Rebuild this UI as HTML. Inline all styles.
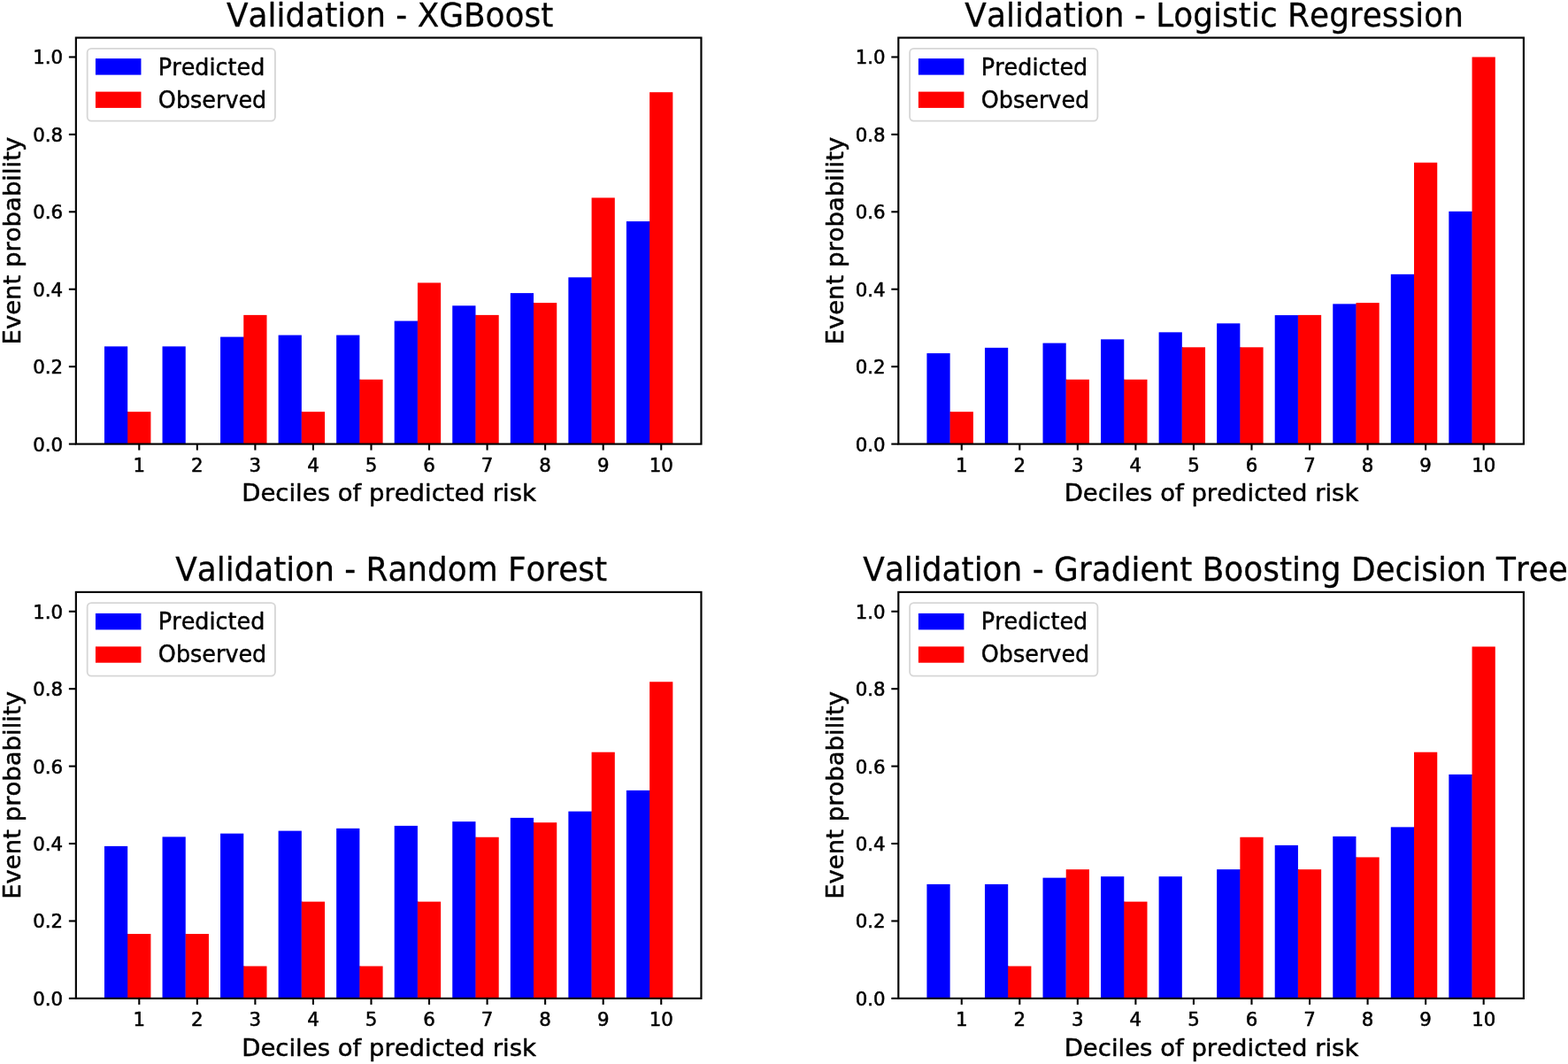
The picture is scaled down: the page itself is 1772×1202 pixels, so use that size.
<!DOCTYPE html>
<html lang="en"><head><meta charset="utf-8"><title>Validation calibration plots</title>
<style>html,body{margin:0;padding:0;background:#fff;}body{width:1772px;height:1202px;overflow:hidden;}svg{display:block;}text{font-family:"DejaVu Sans", "Liberation Sans", sans-serif;font-kerning:none;fill:#000;stroke:#000;stroke-linejoin:round;}</style>
</head><body>
<svg width="1772" height="1202" viewBox="0 0 1772 1202">
<rect x="0" y="0" width="1772" height="1202" fill="#ffffff"/>
<g>
<rect x="117.97" y="391.35" width="26.22" height="110.25" fill="#0000ff"/>
<rect x="143.99" y="465.17" width="1.2" height="36.43" fill="#0000ff"/>
<rect x="144.19" y="465.17" width="26.22" height="36.43" fill="#ff0000"/>
<rect x="183.52" y="391.35" width="26.22" height="110.25" fill="#0000ff"/>
<rect x="249.06" y="380.6" width="26.22" height="121" fill="#0000ff"/>
<rect x="275.08" y="380.6" width="1.2" height="121" fill="#0000ff"/>
<rect x="275.28" y="355.89" width="26.22" height="145.71" fill="#ff0000"/>
<rect x="314.61" y="378.59" width="26.22" height="123.01" fill="#0000ff"/>
<rect x="340.63" y="465.17" width="1.2" height="36.43" fill="#0000ff"/>
<rect x="340.83" y="465.17" width="26.22" height="36.43" fill="#ff0000"/>
<rect x="380.16" y="378.59" width="26.22" height="123.01" fill="#0000ff"/>
<rect x="406.18" y="428.74" width="1.2" height="72.86" fill="#0000ff"/>
<rect x="406.38" y="428.74" width="26.22" height="72.86" fill="#ff0000"/>
<rect x="445.7" y="362.59" width="26.22" height="139.01" fill="#0000ff"/>
<rect x="471.72" y="362.59" width="1.2" height="139.01" fill="#0000ff"/>
<rect x="471.92" y="319.46" width="26.22" height="182.14" fill="#ff0000"/>
<rect x="511.25" y="345.32" width="26.22" height="156.28" fill="#0000ff"/>
<rect x="537.27" y="355.89" width="1.2" height="145.71" fill="#0000ff"/>
<rect x="537.47" y="355.89" width="26.22" height="145.71" fill="#ff0000"/>
<rect x="576.8" y="331.11" width="26.22" height="170.49" fill="#0000ff"/>
<rect x="602.82" y="342.13" width="1.2" height="159.47" fill="#0000ff"/>
<rect x="603.02" y="342.13" width="26.22" height="159.47" fill="#ff0000"/>
<rect x="642.35" y="313.32" width="26.22" height="188.28" fill="#0000ff"/>
<rect x="668.37" y="313.32" width="1.2" height="188.28" fill="#0000ff"/>
<rect x="668.57" y="223.42" width="26.22" height="278.18" fill="#ff0000"/>
<rect x="707.89" y="250.07" width="26.22" height="251.53" fill="#0000ff"/>
<rect x="733.91" y="250.07" width="1.2" height="251.53" fill="#0000ff"/>
<rect x="734.11" y="104.2" width="26.22" height="397.4" fill="#ff0000"/>
<line x1="157.3" y1="501.6" x2="157.3" y2="508.6" stroke="#000" stroke-width="2.1"/>
<text transform="translate(157.3 532.6) scale(1 0.96)" font-size="21.3" stroke-width="0.55" text-anchor="middle">1</text>
<line x1="222.84" y1="501.6" x2="222.84" y2="508.6" stroke="#000" stroke-width="2.1"/>
<text transform="translate(222.84 532.6) scale(1 0.96)" font-size="21.3" stroke-width="0.55" text-anchor="middle">2</text>
<line x1="288.39" y1="501.6" x2="288.39" y2="508.6" stroke="#000" stroke-width="2.1"/>
<text transform="translate(288.39 532.6) scale(1 0.96)" font-size="21.3" stroke-width="0.55" text-anchor="middle">3</text>
<line x1="353.94" y1="501.6" x2="353.94" y2="508.6" stroke="#000" stroke-width="2.1"/>
<text transform="translate(353.94 532.6) scale(1 0.96)" font-size="21.3" stroke-width="0.55" text-anchor="middle">4</text>
<line x1="419.49" y1="501.6" x2="419.49" y2="508.6" stroke="#000" stroke-width="2.1"/>
<text transform="translate(419.49 532.6) scale(1 0.96)" font-size="21.3" stroke-width="0.55" text-anchor="middle">5</text>
<line x1="485.03" y1="501.6" x2="485.03" y2="508.6" stroke="#000" stroke-width="2.1"/>
<text transform="translate(485.03 532.6) scale(1 0.96)" font-size="21.3" stroke-width="0.55" text-anchor="middle">6</text>
<line x1="550.58" y1="501.6" x2="550.58" y2="508.6" stroke="#000" stroke-width="2.1"/>
<text transform="translate(550.58 532.6) scale(1 0.96)" font-size="21.3" stroke-width="0.55" text-anchor="middle">7</text>
<line x1="616.13" y1="501.6" x2="616.13" y2="508.6" stroke="#000" stroke-width="2.1"/>
<text transform="translate(616.13 532.6) scale(1 0.96)" font-size="21.3" stroke-width="0.55" text-anchor="middle">8</text>
<line x1="681.68" y1="501.6" x2="681.68" y2="508.6" stroke="#000" stroke-width="2.1"/>
<text transform="translate(681.68 532.6) scale(1 0.96)" font-size="21.3" stroke-width="0.55" text-anchor="middle">9</text>
<line x1="747.22" y1="501.6" x2="747.22" y2="508.6" stroke="#000" stroke-width="2.1"/>
<text transform="translate(747.22 532.6) scale(1 0.96)" font-size="21.3" stroke-width="0.55" text-anchor="middle">10</text>
<line x1="77.85" y1="501.6" x2="85.85" y2="501.6" stroke="#000" stroke-width="2.1"/>
<text transform="translate(71.05 509.6) scale(1 0.96)" font-size="21.3" stroke-width="0.55" text-anchor="end">0.0</text>
<line x1="77.85" y1="414.17" x2="85.85" y2="414.17" stroke="#000" stroke-width="2.1"/>
<text transform="translate(71.05 422.17) scale(1 0.96)" font-size="21.3" stroke-width="0.55" text-anchor="end">0.2</text>
<line x1="77.85" y1="326.74" x2="85.85" y2="326.74" stroke="#000" stroke-width="2.1"/>
<text transform="translate(71.05 334.74) scale(1 0.96)" font-size="21.3" stroke-width="0.55" text-anchor="end">0.4</text>
<line x1="77.85" y1="239.31" x2="85.85" y2="239.31" stroke="#000" stroke-width="2.1"/>
<text transform="translate(71.05 247.31) scale(1 0.96)" font-size="21.3" stroke-width="0.55" text-anchor="end">0.6</text>
<line x1="77.85" y1="151.89" x2="85.85" y2="151.89" stroke="#000" stroke-width="2.1"/>
<text transform="translate(71.05 159.89) scale(1 0.96)" font-size="21.3" stroke-width="0.55" text-anchor="end">0.8</text>
<line x1="77.85" y1="64.46" x2="85.85" y2="64.46" stroke="#000" stroke-width="2.1"/>
<text transform="translate(71.05 72.46) scale(1 0.96)" font-size="21.3" stroke-width="0.55" text-anchor="end">1.0</text>
<rect x="85.85" y="42.6" width="706.6" height="459" fill="none" stroke="#000" stroke-width="2.15"/>
<text transform="translate(256.09 30.1) scale(1 1.04)" font-size="35.87" stroke-width="0.3" textLength="369.11">Validation - XGBoost</text>
<text transform="translate(439.55 566.3) scale(1 0.98)" font-size="27.5" stroke-width="0.5" text-anchor="middle">Deciles of predicted risk</text>
<text transform="translate(23.05 272.1) rotate(-90) scale(1 0.98)" font-size="27.5" stroke-width="0.5" text-anchor="middle">Event probability</text>
<rect x="98.65" y="54.8" width="212.3" height="81.9" rx="4.6" ry="4.6" fill="#ffffff" fill-opacity="0.8" stroke="#cccccc" stroke-opacity="0.8" stroke-width="1.8"/>
<rect x="107.95" y="66.1" width="51.5" height="18.5" fill="#0000ff"/>
<rect x="107.95" y="103.6" width="51.5" height="18.3" fill="#ff0000"/>
<text transform="translate(178.85 84.5) scale(1 1.03)" font-size="25.45" stroke-width="0.45">Predicted</text>
<text transform="translate(178.85 121.7) scale(1 1.03)" font-size="25.45" stroke-width="0.45">Observed</text>
</g>
<g>
<rect x="1047.42" y="399.09" width="26.22" height="102.51" fill="#0000ff"/>
<rect x="1073.44" y="465.17" width="1.2" height="36.43" fill="#0000ff"/>
<rect x="1073.64" y="465.17" width="26.22" height="36.43" fill="#ff0000"/>
<rect x="1112.97" y="392.84" width="26.22" height="108.76" fill="#0000ff"/>
<rect x="1178.51" y="387.59" width="26.22" height="114.01" fill="#0000ff"/>
<rect x="1204.53" y="428.74" width="1.2" height="72.86" fill="#0000ff"/>
<rect x="1204.73" y="428.74" width="26.22" height="72.86" fill="#ff0000"/>
<rect x="1244.06" y="383.35" width="26.22" height="118.25" fill="#0000ff"/>
<rect x="1270.08" y="428.74" width="1.2" height="72.86" fill="#0000ff"/>
<rect x="1270.28" y="428.74" width="26.22" height="72.86" fill="#ff0000"/>
<rect x="1309.61" y="375.35" width="26.22" height="126.25" fill="#0000ff"/>
<rect x="1335.63" y="392.31" width="1.2" height="109.29" fill="#0000ff"/>
<rect x="1335.83" y="392.31" width="26.22" height="109.29" fill="#ff0000"/>
<rect x="1375.15" y="365.34" width="26.22" height="136.26" fill="#0000ff"/>
<rect x="1401.17" y="392.31" width="1.2" height="109.29" fill="#0000ff"/>
<rect x="1401.37" y="392.31" width="26.22" height="109.29" fill="#ff0000"/>
<rect x="1440.7" y="356.08" width="26.22" height="145.52" fill="#0000ff"/>
<rect x="1466.72" y="356.08" width="1.2" height="145.52" fill="#0000ff"/>
<rect x="1466.92" y="355.89" width="26.22" height="145.71" fill="#ff0000"/>
<rect x="1506.25" y="343.35" width="26.22" height="158.25" fill="#0000ff"/>
<rect x="1532.27" y="343.35" width="1.2" height="158.25" fill="#0000ff"/>
<rect x="1532.47" y="342.13" width="26.22" height="159.47" fill="#ff0000"/>
<rect x="1571.8" y="309.83" width="26.22" height="191.77" fill="#0000ff"/>
<rect x="1597.82" y="309.83" width="1.2" height="191.77" fill="#0000ff"/>
<rect x="1598.02" y="183.68" width="26.22" height="317.92" fill="#ff0000"/>
<rect x="1637.34" y="238.83" width="26.22" height="262.77" fill="#0000ff"/>
<rect x="1663.36" y="238.83" width="1.2" height="262.77" fill="#0000ff"/>
<rect x="1663.56" y="64.46" width="26.22" height="437.14" fill="#ff0000"/>
<line x1="1086.75" y1="501.6" x2="1086.75" y2="508.6" stroke="#000" stroke-width="2.1"/>
<text transform="translate(1086.75 532.6) scale(1 0.96)" font-size="21.3" stroke-width="0.55" text-anchor="middle">1</text>
<line x1="1152.29" y1="501.6" x2="1152.29" y2="508.6" stroke="#000" stroke-width="2.1"/>
<text transform="translate(1152.29 532.6) scale(1 0.96)" font-size="21.3" stroke-width="0.55" text-anchor="middle">2</text>
<line x1="1217.84" y1="501.6" x2="1217.84" y2="508.6" stroke="#000" stroke-width="2.1"/>
<text transform="translate(1217.84 532.6) scale(1 0.96)" font-size="21.3" stroke-width="0.55" text-anchor="middle">3</text>
<line x1="1283.39" y1="501.6" x2="1283.39" y2="508.6" stroke="#000" stroke-width="2.1"/>
<text transform="translate(1283.39 532.6) scale(1 0.96)" font-size="21.3" stroke-width="0.55" text-anchor="middle">4</text>
<line x1="1348.94" y1="501.6" x2="1348.94" y2="508.6" stroke="#000" stroke-width="2.1"/>
<text transform="translate(1348.94 532.6) scale(1 0.96)" font-size="21.3" stroke-width="0.55" text-anchor="middle">5</text>
<line x1="1414.48" y1="501.6" x2="1414.48" y2="508.6" stroke="#000" stroke-width="2.1"/>
<text transform="translate(1414.48 532.6) scale(1 0.96)" font-size="21.3" stroke-width="0.55" text-anchor="middle">6</text>
<line x1="1480.03" y1="501.6" x2="1480.03" y2="508.6" stroke="#000" stroke-width="2.1"/>
<text transform="translate(1480.03 532.6) scale(1 0.96)" font-size="21.3" stroke-width="0.55" text-anchor="middle">7</text>
<line x1="1545.58" y1="501.6" x2="1545.58" y2="508.6" stroke="#000" stroke-width="2.1"/>
<text transform="translate(1545.58 532.6) scale(1 0.96)" font-size="21.3" stroke-width="0.55" text-anchor="middle">8</text>
<line x1="1611.13" y1="501.6" x2="1611.13" y2="508.6" stroke="#000" stroke-width="2.1"/>
<text transform="translate(1611.13 532.6) scale(1 0.96)" font-size="21.3" stroke-width="0.55" text-anchor="middle">9</text>
<line x1="1676.67" y1="501.6" x2="1676.67" y2="508.6" stroke="#000" stroke-width="2.1"/>
<text transform="translate(1676.67 532.6) scale(1 0.96)" font-size="21.3" stroke-width="0.55" text-anchor="middle">10</text>
<line x1="1007.3" y1="501.6" x2="1015.3" y2="501.6" stroke="#000" stroke-width="2.1"/>
<text transform="translate(1000.5 509.6) scale(1 0.96)" font-size="21.3" stroke-width="0.55" text-anchor="end">0.0</text>
<line x1="1007.3" y1="414.17" x2="1015.3" y2="414.17" stroke="#000" stroke-width="2.1"/>
<text transform="translate(1000.5 422.17) scale(1 0.96)" font-size="21.3" stroke-width="0.55" text-anchor="end">0.2</text>
<line x1="1007.3" y1="326.74" x2="1015.3" y2="326.74" stroke="#000" stroke-width="2.1"/>
<text transform="translate(1000.5 334.74) scale(1 0.96)" font-size="21.3" stroke-width="0.55" text-anchor="end">0.4</text>
<line x1="1007.3" y1="239.31" x2="1015.3" y2="239.31" stroke="#000" stroke-width="2.1"/>
<text transform="translate(1000.5 247.31) scale(1 0.96)" font-size="21.3" stroke-width="0.55" text-anchor="end">0.6</text>
<line x1="1007.3" y1="151.89" x2="1015.3" y2="151.89" stroke="#000" stroke-width="2.1"/>
<text transform="translate(1000.5 159.89) scale(1 0.96)" font-size="21.3" stroke-width="0.55" text-anchor="end">0.8</text>
<line x1="1007.3" y1="64.46" x2="1015.3" y2="64.46" stroke="#000" stroke-width="2.1"/>
<text transform="translate(1000.5 72.46) scale(1 0.96)" font-size="21.3" stroke-width="0.55" text-anchor="end">1.0</text>
<rect x="1015.3" y="42.6" width="706.6" height="459" fill="none" stroke="#000" stroke-width="2.15"/>
<text transform="translate(1090.34 30.1) scale(1 1.04)" font-size="35.87" stroke-width="0.3" textLength="563.6">Validation - Logistic Regression</text>
<text transform="translate(1369 566.3) scale(1 0.98)" font-size="27.5" stroke-width="0.5" text-anchor="middle">Deciles of predicted risk</text>
<text transform="translate(952.5 272.1) rotate(-90) scale(1 0.98)" font-size="27.5" stroke-width="0.5" text-anchor="middle">Event probability</text>
<rect x="1028.1" y="54.8" width="212.3" height="81.9" rx="4.6" ry="4.6" fill="#ffffff" fill-opacity="0.8" stroke="#cccccc" stroke-opacity="0.8" stroke-width="1.8"/>
<rect x="1037.9" y="66.1" width="51.5" height="18.5" fill="#0000ff"/>
<rect x="1037.9" y="103.6" width="51.5" height="18.3" fill="#ff0000"/>
<text transform="translate(1108.8 84.5) scale(1 1.03)" font-size="25.45" stroke-width="0.45">Predicted</text>
<text transform="translate(1108.8 121.7) scale(1 1.03)" font-size="25.45" stroke-width="0.45">Observed</text>
</g>
<g>
<rect x="117.97" y="955.88" width="26.22" height="172.02" fill="#0000ff"/>
<rect x="143.99" y="1055.04" width="1.2" height="72.86" fill="#0000ff"/>
<rect x="144.19" y="1055.04" width="26.22" height="72.86" fill="#ff0000"/>
<rect x="183.52" y="945.39" width="26.22" height="182.51" fill="#0000ff"/>
<rect x="209.53" y="1055.04" width="1.2" height="72.86" fill="#0000ff"/>
<rect x="209.73" y="1055.04" width="26.22" height="72.86" fill="#ff0000"/>
<rect x="249.06" y="941.63" width="26.22" height="186.27" fill="#0000ff"/>
<rect x="275.08" y="1091.47" width="1.2" height="36.43" fill="#0000ff"/>
<rect x="275.28" y="1091.47" width="26.22" height="36.43" fill="#ff0000"/>
<rect x="314.61" y="938.62" width="26.22" height="189.28" fill="#0000ff"/>
<rect x="340.63" y="1018.61" width="1.2" height="109.29" fill="#0000ff"/>
<rect x="340.83" y="1018.61" width="26.22" height="109.29" fill="#ff0000"/>
<rect x="380.16" y="935.86" width="26.22" height="192.04" fill="#0000ff"/>
<rect x="406.18" y="1091.47" width="1.2" height="36.43" fill="#0000ff"/>
<rect x="406.38" y="1091.47" width="26.22" height="36.43" fill="#ff0000"/>
<rect x="445.7" y="932.89" width="26.22" height="195.01" fill="#0000ff"/>
<rect x="471.72" y="1018.61" width="1.2" height="109.29" fill="#0000ff"/>
<rect x="471.92" y="1018.61" width="26.22" height="109.29" fill="#ff0000"/>
<rect x="511.25" y="928.13" width="26.22" height="199.77" fill="#0000ff"/>
<rect x="537.27" y="945.76" width="1.2" height="182.14" fill="#0000ff"/>
<rect x="537.47" y="945.76" width="26.22" height="182.14" fill="#ff0000"/>
<rect x="576.8" y="923.89" width="26.22" height="204.01" fill="#0000ff"/>
<rect x="602.82" y="929.2" width="1.2" height="198.7" fill="#0000ff"/>
<rect x="603.02" y="929.2" width="26.22" height="198.7" fill="#ff0000"/>
<rect x="642.35" y="916.63" width="26.22" height="211.27" fill="#0000ff"/>
<rect x="668.37" y="916.63" width="1.2" height="211.27" fill="#0000ff"/>
<rect x="668.57" y="849.72" width="26.22" height="278.18" fill="#ff0000"/>
<rect x="707.89" y="892.89" width="26.22" height="235.01" fill="#0000ff"/>
<rect x="733.91" y="892.89" width="1.2" height="235.01" fill="#0000ff"/>
<rect x="734.11" y="770.24" width="26.22" height="357.66" fill="#ff0000"/>
<line x1="157.3" y1="1127.9" x2="157.3" y2="1134.9" stroke="#000" stroke-width="2.1"/>
<text transform="translate(157.3 1158.9) scale(1 0.96)" font-size="21.3" stroke-width="0.55" text-anchor="middle">1</text>
<line x1="222.84" y1="1127.9" x2="222.84" y2="1134.9" stroke="#000" stroke-width="2.1"/>
<text transform="translate(222.84 1158.9) scale(1 0.96)" font-size="21.3" stroke-width="0.55" text-anchor="middle">2</text>
<line x1="288.39" y1="1127.9" x2="288.39" y2="1134.9" stroke="#000" stroke-width="2.1"/>
<text transform="translate(288.39 1158.9) scale(1 0.96)" font-size="21.3" stroke-width="0.55" text-anchor="middle">3</text>
<line x1="353.94" y1="1127.9" x2="353.94" y2="1134.9" stroke="#000" stroke-width="2.1"/>
<text transform="translate(353.94 1158.9) scale(1 0.96)" font-size="21.3" stroke-width="0.55" text-anchor="middle">4</text>
<line x1="419.49" y1="1127.9" x2="419.49" y2="1134.9" stroke="#000" stroke-width="2.1"/>
<text transform="translate(419.49 1158.9) scale(1 0.96)" font-size="21.3" stroke-width="0.55" text-anchor="middle">5</text>
<line x1="485.03" y1="1127.9" x2="485.03" y2="1134.9" stroke="#000" stroke-width="2.1"/>
<text transform="translate(485.03 1158.9) scale(1 0.96)" font-size="21.3" stroke-width="0.55" text-anchor="middle">6</text>
<line x1="550.58" y1="1127.9" x2="550.58" y2="1134.9" stroke="#000" stroke-width="2.1"/>
<text transform="translate(550.58 1158.9) scale(1 0.96)" font-size="21.3" stroke-width="0.55" text-anchor="middle">7</text>
<line x1="616.13" y1="1127.9" x2="616.13" y2="1134.9" stroke="#000" stroke-width="2.1"/>
<text transform="translate(616.13 1158.9) scale(1 0.96)" font-size="21.3" stroke-width="0.55" text-anchor="middle">8</text>
<line x1="681.68" y1="1127.9" x2="681.68" y2="1134.9" stroke="#000" stroke-width="2.1"/>
<text transform="translate(681.68 1158.9) scale(1 0.96)" font-size="21.3" stroke-width="0.55" text-anchor="middle">9</text>
<line x1="747.22" y1="1127.9" x2="747.22" y2="1134.9" stroke="#000" stroke-width="2.1"/>
<text transform="translate(747.22 1158.9) scale(1 0.96)" font-size="21.3" stroke-width="0.55" text-anchor="middle">10</text>
<line x1="77.85" y1="1127.9" x2="85.85" y2="1127.9" stroke="#000" stroke-width="2.1"/>
<text transform="translate(71.05 1135.9) scale(1 0.96)" font-size="21.3" stroke-width="0.55" text-anchor="end">0.0</text>
<line x1="77.85" y1="1040.47" x2="85.85" y2="1040.47" stroke="#000" stroke-width="2.1"/>
<text transform="translate(71.05 1048.47) scale(1 0.96)" font-size="21.3" stroke-width="0.55" text-anchor="end">0.2</text>
<line x1="77.85" y1="953.04" x2="85.85" y2="953.04" stroke="#000" stroke-width="2.1"/>
<text transform="translate(71.05 961.04) scale(1 0.96)" font-size="21.3" stroke-width="0.55" text-anchor="end">0.4</text>
<line x1="77.85" y1="865.61" x2="85.85" y2="865.61" stroke="#000" stroke-width="2.1"/>
<text transform="translate(71.05 873.61) scale(1 0.96)" font-size="21.3" stroke-width="0.55" text-anchor="end">0.6</text>
<line x1="77.85" y1="778.19" x2="85.85" y2="778.19" stroke="#000" stroke-width="2.1"/>
<text transform="translate(71.05 786.19) scale(1 0.96)" font-size="21.3" stroke-width="0.55" text-anchor="end">0.8</text>
<line x1="77.85" y1="690.76" x2="85.85" y2="690.76" stroke="#000" stroke-width="2.1"/>
<text transform="translate(71.05 698.76) scale(1 0.96)" font-size="21.3" stroke-width="0.55" text-anchor="end">1.0</text>
<rect x="85.85" y="668.9" width="706.6" height="459" fill="none" stroke="#000" stroke-width="2.15"/>
<text transform="translate(198.24 656.4) scale(1 1.04)" font-size="35.87" stroke-width="0.3" textLength="487.74">Validation - Random Forest</text>
<text transform="translate(439.55 1192.6) scale(1 0.98)" font-size="27.5" stroke-width="0.5" text-anchor="middle">Deciles of predicted risk</text>
<text transform="translate(23.05 898.4) rotate(-90) scale(1 0.98)" font-size="27.5" stroke-width="0.5" text-anchor="middle">Event probability</text>
<rect x="98.65" y="681.1" width="212.3" height="82.6" rx="4.6" ry="4.6" fill="#ffffff" fill-opacity="0.8" stroke="#cccccc" stroke-opacity="0.8" stroke-width="1.8"/>
<rect x="107.95" y="692.9" width="51.5" height="18.5" fill="#0000ff"/>
<rect x="107.95" y="730.4" width="51.5" height="18.3" fill="#ff0000"/>
<text transform="translate(178.85 711.1) scale(1 1.03)" font-size="25.45" stroke-width="0.45">Predicted</text>
<text transform="translate(178.85 748.3) scale(1 1.03)" font-size="25.45" stroke-width="0.45">Observed</text>
</g>
<g>
<rect x="1047.42" y="998.9" width="26.22" height="129" fill="#0000ff"/>
<rect x="1112.97" y="998.9" width="26.22" height="129" fill="#0000ff"/>
<rect x="1138.98" y="1091.47" width="1.2" height="36.43" fill="#0000ff"/>
<rect x="1139.18" y="1091.47" width="26.22" height="36.43" fill="#ff0000"/>
<rect x="1178.51" y="991.64" width="26.22" height="136.26" fill="#0000ff"/>
<rect x="1204.53" y="991.64" width="1.2" height="136.26" fill="#0000ff"/>
<rect x="1204.73" y="982.19" width="26.22" height="145.71" fill="#ff0000"/>
<rect x="1244.06" y="990.16" width="26.22" height="137.74" fill="#0000ff"/>
<rect x="1270.08" y="1018.61" width="1.2" height="109.29" fill="#0000ff"/>
<rect x="1270.28" y="1018.61" width="26.22" height="109.29" fill="#ff0000"/>
<rect x="1309.61" y="990.16" width="26.22" height="137.74" fill="#0000ff"/>
<rect x="1375.15" y="982.16" width="26.22" height="145.74" fill="#0000ff"/>
<rect x="1401.17" y="982.16" width="1.2" height="145.74" fill="#0000ff"/>
<rect x="1401.37" y="945.76" width="26.22" height="182.14" fill="#ff0000"/>
<rect x="1440.7" y="954.88" width="26.22" height="173.02" fill="#0000ff"/>
<rect x="1466.72" y="982.19" width="1.2" height="145.71" fill="#0000ff"/>
<rect x="1466.92" y="982.19" width="26.22" height="145.71" fill="#ff0000"/>
<rect x="1506.25" y="944.87" width="26.22" height="183.03" fill="#0000ff"/>
<rect x="1532.27" y="968.43" width="1.2" height="159.47" fill="#0000ff"/>
<rect x="1532.47" y="968.43" width="26.22" height="159.47" fill="#ff0000"/>
<rect x="1571.8" y="934.38" width="26.22" height="193.52" fill="#0000ff"/>
<rect x="1597.82" y="934.38" width="1.2" height="193.52" fill="#0000ff"/>
<rect x="1598.02" y="849.72" width="26.22" height="278.18" fill="#ff0000"/>
<rect x="1637.34" y="874.88" width="26.22" height="253.02" fill="#0000ff"/>
<rect x="1663.36" y="874.88" width="1.2" height="253.02" fill="#0000ff"/>
<rect x="1663.56" y="730.5" width="26.22" height="397.4" fill="#ff0000"/>
<line x1="1086.75" y1="1127.9" x2="1086.75" y2="1134.9" stroke="#000" stroke-width="2.1"/>
<text transform="translate(1086.75 1158.9) scale(1 0.96)" font-size="21.3" stroke-width="0.55" text-anchor="middle">1</text>
<line x1="1152.29" y1="1127.9" x2="1152.29" y2="1134.9" stroke="#000" stroke-width="2.1"/>
<text transform="translate(1152.29 1158.9) scale(1 0.96)" font-size="21.3" stroke-width="0.55" text-anchor="middle">2</text>
<line x1="1217.84" y1="1127.9" x2="1217.84" y2="1134.9" stroke="#000" stroke-width="2.1"/>
<text transform="translate(1217.84 1158.9) scale(1 0.96)" font-size="21.3" stroke-width="0.55" text-anchor="middle">3</text>
<line x1="1283.39" y1="1127.9" x2="1283.39" y2="1134.9" stroke="#000" stroke-width="2.1"/>
<text transform="translate(1283.39 1158.9) scale(1 0.96)" font-size="21.3" stroke-width="0.55" text-anchor="middle">4</text>
<line x1="1348.94" y1="1127.9" x2="1348.94" y2="1134.9" stroke="#000" stroke-width="2.1"/>
<text transform="translate(1348.94 1158.9) scale(1 0.96)" font-size="21.3" stroke-width="0.55" text-anchor="middle">5</text>
<line x1="1414.48" y1="1127.9" x2="1414.48" y2="1134.9" stroke="#000" stroke-width="2.1"/>
<text transform="translate(1414.48 1158.9) scale(1 0.96)" font-size="21.3" stroke-width="0.55" text-anchor="middle">6</text>
<line x1="1480.03" y1="1127.9" x2="1480.03" y2="1134.9" stroke="#000" stroke-width="2.1"/>
<text transform="translate(1480.03 1158.9) scale(1 0.96)" font-size="21.3" stroke-width="0.55" text-anchor="middle">7</text>
<line x1="1545.58" y1="1127.9" x2="1545.58" y2="1134.9" stroke="#000" stroke-width="2.1"/>
<text transform="translate(1545.58 1158.9) scale(1 0.96)" font-size="21.3" stroke-width="0.55" text-anchor="middle">8</text>
<line x1="1611.13" y1="1127.9" x2="1611.13" y2="1134.9" stroke="#000" stroke-width="2.1"/>
<text transform="translate(1611.13 1158.9) scale(1 0.96)" font-size="21.3" stroke-width="0.55" text-anchor="middle">9</text>
<line x1="1676.67" y1="1127.9" x2="1676.67" y2="1134.9" stroke="#000" stroke-width="2.1"/>
<text transform="translate(1676.67 1158.9) scale(1 0.96)" font-size="21.3" stroke-width="0.55" text-anchor="middle">10</text>
<line x1="1007.3" y1="1127.9" x2="1015.3" y2="1127.9" stroke="#000" stroke-width="2.1"/>
<text transform="translate(1000.5 1135.9) scale(1 0.96)" font-size="21.3" stroke-width="0.55" text-anchor="end">0.0</text>
<line x1="1007.3" y1="1040.47" x2="1015.3" y2="1040.47" stroke="#000" stroke-width="2.1"/>
<text transform="translate(1000.5 1048.47) scale(1 0.96)" font-size="21.3" stroke-width="0.55" text-anchor="end">0.2</text>
<line x1="1007.3" y1="953.04" x2="1015.3" y2="953.04" stroke="#000" stroke-width="2.1"/>
<text transform="translate(1000.5 961.04) scale(1 0.96)" font-size="21.3" stroke-width="0.55" text-anchor="end">0.4</text>
<line x1="1007.3" y1="865.61" x2="1015.3" y2="865.61" stroke="#000" stroke-width="2.1"/>
<text transform="translate(1000.5 873.61) scale(1 0.96)" font-size="21.3" stroke-width="0.55" text-anchor="end">0.6</text>
<line x1="1007.3" y1="778.19" x2="1015.3" y2="778.19" stroke="#000" stroke-width="2.1"/>
<text transform="translate(1000.5 786.19) scale(1 0.96)" font-size="21.3" stroke-width="0.55" text-anchor="end">0.8</text>
<line x1="1007.3" y1="690.76" x2="1015.3" y2="690.76" stroke="#000" stroke-width="2.1"/>
<text transform="translate(1000.5 698.76) scale(1 0.96)" font-size="21.3" stroke-width="0.55" text-anchor="end">1.0</text>
<rect x="1015.3" y="668.9" width="706.6" height="459" fill="none" stroke="#000" stroke-width="2.15"/>
<text transform="translate(975.34 656.4) scale(1 1.04)" font-size="35.87" stroke-width="0.3" textLength="796.57">Validation - Gradient Boosting Decision Tree</text>
<text transform="translate(1369 1192.6) scale(1 0.98)" font-size="27.5" stroke-width="0.5" text-anchor="middle">Deciles of predicted risk</text>
<text transform="translate(952.5 898.4) rotate(-90) scale(1 0.98)" font-size="27.5" stroke-width="0.5" text-anchor="middle">Event probability</text>
<rect x="1028.1" y="681.1" width="212.3" height="82.6" rx="4.6" ry="4.6" fill="#ffffff" fill-opacity="0.8" stroke="#cccccc" stroke-opacity="0.8" stroke-width="1.8"/>
<rect x="1037.9" y="692.9" width="51.5" height="18.5" fill="#0000ff"/>
<rect x="1037.9" y="730.4" width="51.5" height="18.3" fill="#ff0000"/>
<text transform="translate(1108.8 711.1) scale(1 1.03)" font-size="25.45" stroke-width="0.45">Predicted</text>
<text transform="translate(1108.8 748.3) scale(1 1.03)" font-size="25.45" stroke-width="0.45">Observed</text>
</g>
</svg>
</body></html>
